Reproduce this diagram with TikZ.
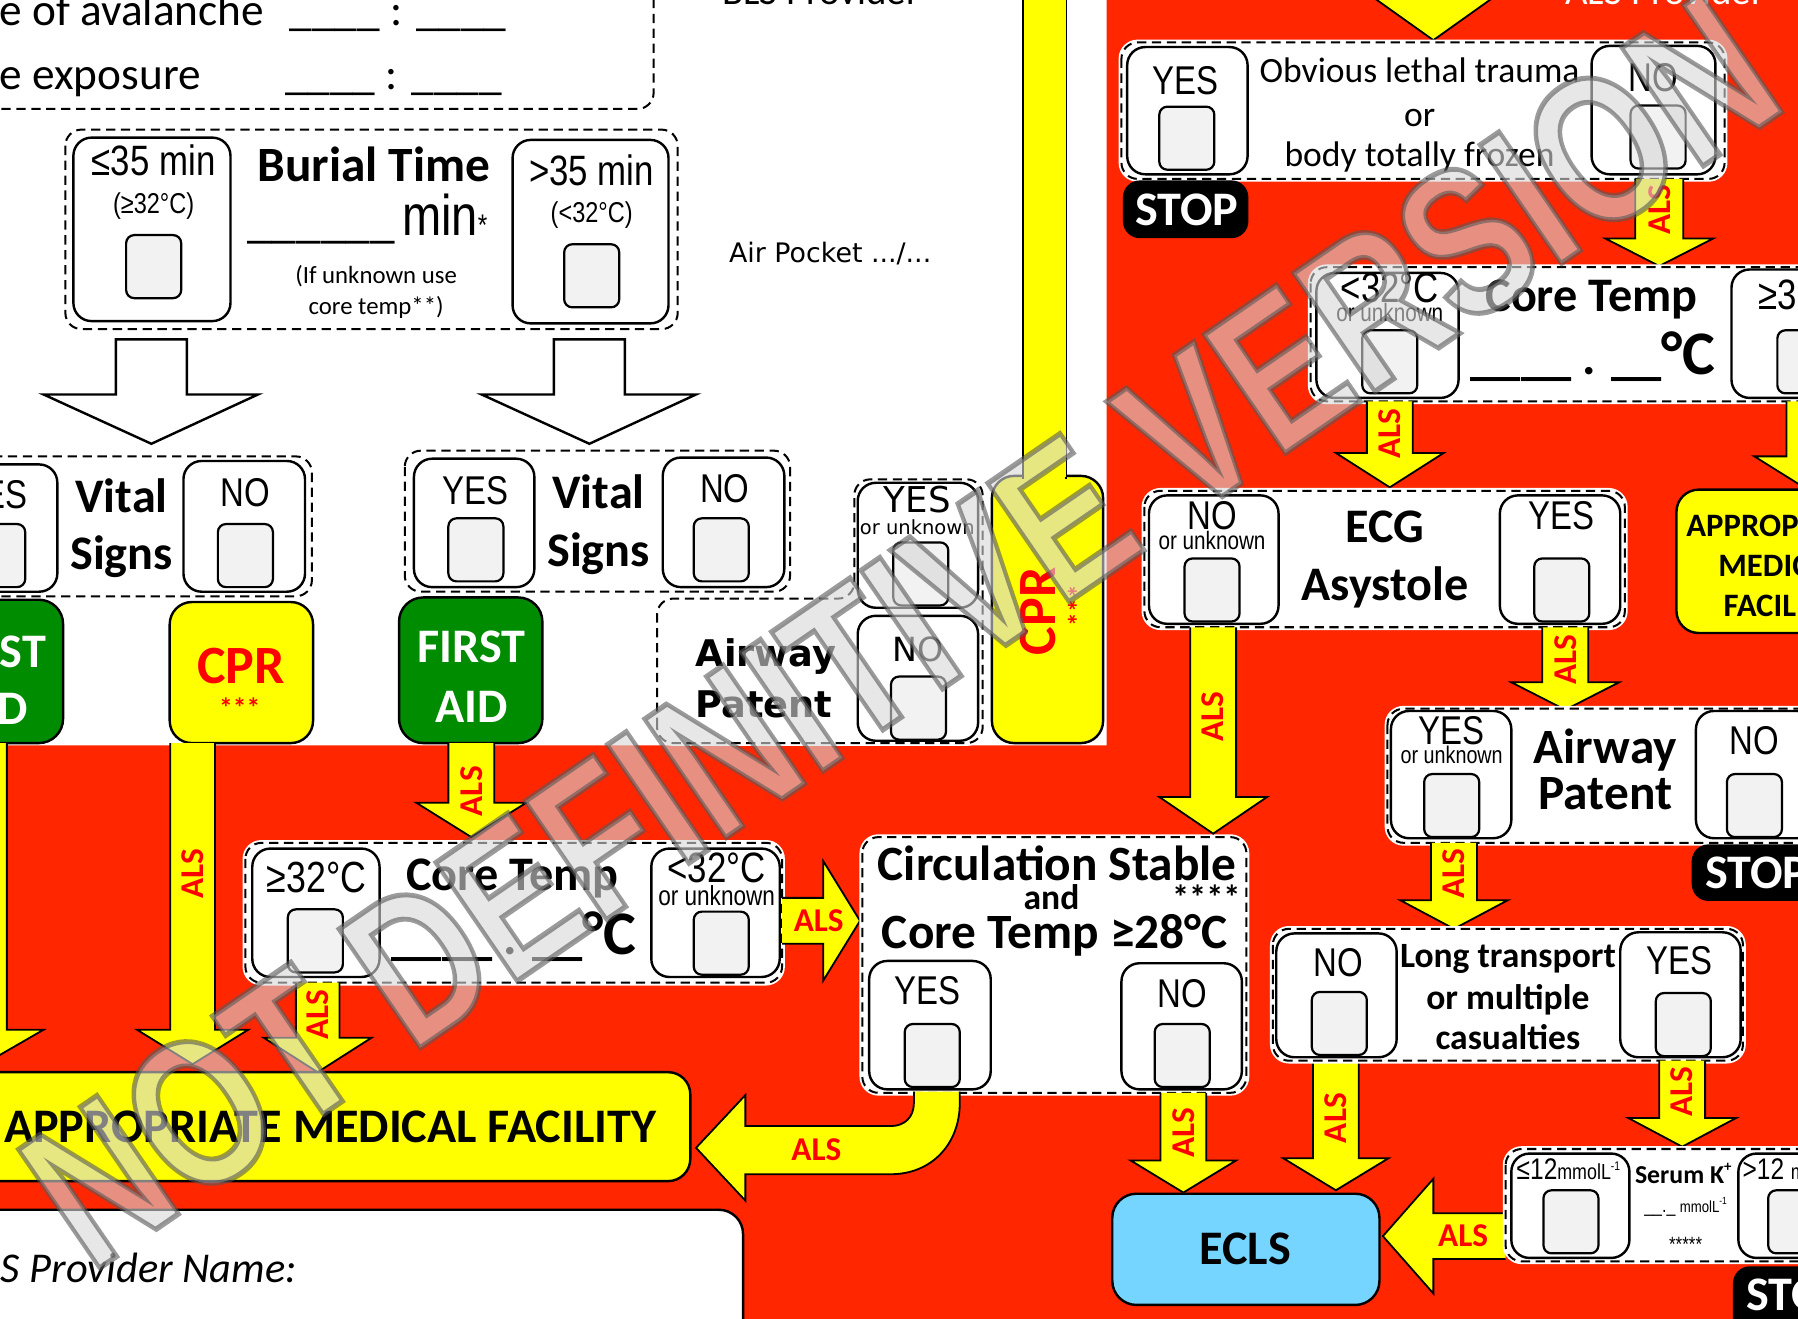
\documentclass[tikz,border=0pt]{standalone}
\usepackage{fontspec}
\setmainfont{Carlito}
\newfontfamily\nar[FakeStretch=0.82]{Liberation Sans}
\newfontfamily\dvs{DejaVu Sans}
\newfontfamily\wmf{Liberation Sans}
\newcommand\fpx[1]{\fontsize{\fpeval{#1*0.2845}}{\fpeval{#1*0.33}}\selectfont}
\definecolor{redbg}{RGB}{255,38,0}
\definecolor{yel}{RGB}{255,255,0}
\definecolor{grn}{RGB}{0,140,0}
\definecolor{ltblue}{RGB}{117,213,255}
\definecolor{cbox}{RGB}{242,242,242}
\definecolor{redtxt}{RGB}{255,0,0}
\definecolor{wmgray}{RGB}{215,215,215}
\newcommand\ArrD[6]{\draw[yarr] (#1-#5,#2) -- (#1-#5,#3) -- (#1-#6,#3) -- (#1,#4) -- (#1+#6,#3) -- (#1+#5,#3) -- (#1+#5,#2);}
\newcommand\ArrH[6]{\draw[yarr] (#2,#1-#5) -- (#3,#1-#5) -- (#3,#1-#6) -- (#4,#1) -- (#3,#1+#6) -- (#3,#1+#5) -- (#2,#1+#5);}
\newcommand\Chk[2]{\draw[chk] (#1,#2) rectangle (#1+48,#2+55);}
\begin{document}
\begin{tikzpicture}[x=0.01cm,y=-0.01cm,
 tx/.style={inner sep=0pt,anchor=base},
 dbox/.style={draw=black,line width=0.5pt,dash pattern=on 2.3pt off 1.4pt,rounded corners=4pt,fill=white,preaction={draw=white,line width=1.4pt}},
 ibox/.style={draw=black,line width=0.6pt,rounded corners=4.5pt,fill=white},
 chk/.style={draw=black,line width=0.55pt,rounded corners=2pt,fill=cbox},
 yarr/.style={draw=black,line width=0.45pt,fill=yel,line join=miter,miter limit=10},
 warr/.style={draw=black,line width=0.6pt,fill=white,line join=miter},
 ybox/.style={draw=black,line width=0.6pt,fill=yel,rounded corners=5.5pt},
 gbox/.style={draw=black,line width=0.6pt,fill=grn,rounded corners=6pt},
 sbox/.style={fill=black,rounded corners=4pt},
 fYN/.style={tx,font={\nar\fpx{35}}},
 fT/.style={tx,font={\bfseries\fpx{42}}},
 als/.style={inner sep=0pt,text=redtxt,font={\bfseries\fpx{29}}},
 alsv/.style={als,rotate=90},
]
\useasboundingbox (0,0) rectangle (1568,1150);
\clip (0,0) rectangle (1568,1150);
\fill[white] (0,0) rectangle (1568,1150);
\fill[redbg] (965,-10) -- (1600,-10) -- (1600,1200) -- (-50,1200) -- (-50,650) -- (965,650) -- cycle;

% top-left
\draw[dbox] (-40,-40) rectangle (570,95);
\node[tx,anchor=base west,font=\fpx{39.5}] (av1) at (-1,22) {e of avalanche};
\node[tx,anchor=base west,font=\fpx{39.5}] (av2) at (252,22) {\_\_\_\_ : \_\_\_\_};
\node[tx,anchor=base west,font=\fpx{39.5}] (ex1) at (-1,78) {e exposure};
\node[tx,anchor=base west,font=\fpx{39.5}] (ex2) at (248,78) {\_\_\_\_ : \_\_\_\_};
\node[tx,font=\fpx{34}] (blsh) at (716,4) {BLS Provider};
\node[tx,font=\fpx{34},text=white] (alsh) at (1452,4) {ALS Provider};

% Burial
\draw[dbox] (57,113) rectangle (591,287);
\draw[ibox] (64,120) rectangle (201,280);
\node[tx,font={\nar\fpx{37}}] (b1) at (134,153) {≤35 min};
\node[tx,font={\nar\fpx{25}}] (b1t) at (134,186) {(≥32°C)};
\Chk{110}{205}
\node[fT,font={\bfseries\fpx{43}}] (bt) at (326,158) {Burial Time};
\node[tx,font=\fpx{43}] (bu) at (280,207) {\_\_\_\_\_\_};
\node[tx,anchor=base west,font={\nar\fpx{50}}] (bm) at (350,205) {min{\fpx{26}*}};
\node[tx,font=\fpx{21.6}] (bu1) at (328,247) {(If unknown use};
\node[tx,font=\fpx{21.6}] (bu2) at (328,274) {core temp**)};
\draw[ibox] (447,122) rectangle (583,282);
\node[tx,font={\nar\fpx{37}}] (b2) at (516,162) {>35 min};
\node[tx,font={\nar\fpx{25}}] (b2t) at (516,194) {(<32°C)};
\Chk{492}{213}

% white arrows
\draw[warr] (101,296) -- (101,344) -- (38,344) -- (132,387) -- (225,344) -- (163,344) -- (163,296) -- cycle;
\draw[warr] (483,296) -- (483,344) -- (420,344) -- (514,387) -- (607,344) -- (545,344) -- (545,296) -- cycle;

% Vital left
\draw[dbox] (-40,398) rectangle (272,520);
\draw[ibox] (-60,405) rectangle (50,516);
\node[fYN] (v1y) at (-5,443) {YES};
\Chk{-26}{457}
\node[fT] (v1a) at (106,447) {Vital};
\node[fT] (v1b) at (106,497) {Signs};
\draw[ibox] (160,402) rectangle (266,516);
\node[fYN] (v1n) at (214,442) {NO};
\Chk{190}{457}

% Vital right
\draw[dbox] (353,393) rectangle (689,516);
\draw[ibox] (361,400) rectangle (466,512);
\node[fYN] (v2y) at (415,440) {YES};
\Chk{391}{452}
\node[fT] (v2a) at (522,443) {Vital};
\node[fT] (v2b) at (522,494) {Signs};
\draw[ibox] (578,399) rectangle (684,512);
\node[fYN] (v2n) at (632,438) {NO};
\Chk{605}{452}

% First aid and CPR
\draw[gbox] (-70,523) rectangle (55,648);
\node[fT,text=white] (fa1a) at (-7,582) {FIRST};
\node[fT,text=white] (fa1b) at (-7,632) {AID};
\draw[ybox] (148,525) rectangle (273,648);
\node[tx,text=redtxt,font={\bfseries\fpx{47}}] (cpr1) at (210,596) {CPR};
\node[tx,text=redtxt,font={\bfseries\fpx{24}}] (cpr1s) at (209,626) {***};
\draw[gbox] (348,521) rectangle (473,648);
\node[fT,text=white] (fa2a) at (411,578) {FIRST};
\node[fT,text=white] (fa2b) at (411,630) {AID};

% Air pocket
\node[tx,font={\dvs\fpx{23.4}}] (ap) at (724,229) {Air Pocket .../...};

% Middle airway
\draw[dbox] (573,648) -- (573,522) -- (745,522) -- (745,418) -- (857,418) -- (857,648) -- cycle;
\draw[ibox] (748,421) rectangle (853,530);
\node[tx,font={\dvs\fpx{31}}] (ma1) at (800,447) {YES};
\node[tx,font={\dvs\fpx{17}}] (ma2) at (800,466) {or unknown};
\Chk{779}{473}
\draw[ibox] (748,537) rectangle (853,646);
\node[tx,font={\dvs\fpx{29}}] (ma3) at (801,577) {NO};
\Chk{777}{590}
\node[tx,font={\dvs\bfseries\fpx{32}}] (ma4) at (668,581) {Airway};
\node[tx,font={\dvs\bfseries\fpx{32}}] (ma5) at (666,626) {Patent};

% Middle CPR bar
\draw[ybox] (865,415) rectangle (962,648);
\draw[yarr] (892,-20) rectangle (930,417);
\fill[yel] (892.9,405) rectangle (929.1,419);
\node[inner sep=0pt,rotate=90,text=redtxt,font={\bfseries\fpx{47}}] (cpr2) at (905,533) {CPR};
\node[inner sep=0pt,rotate=90,text=redtxt,font={\bfseries\fpx{24}}] (cpr2s) at (940,528) {***};

% lower-left arrows
\ArrD{-14}{648}{898}{928}{20}{52}
\node[alsv] (l1) at (-14,770) {ALS};
\ArrD{168}{648}{898}{928}{19.5}{48.5}
\node[alsv] (l2) at (168,762) {ALS};
\ArrD{411}{648}{700}{730}{20}{48}
\node[alsv] (l3) at (411,690) {ALS};

% Core temp left
\draw[dbox] (214,735) rectangle (682,857);
\draw[ibox] (220,740) rectangle (331,852);
\node[tx,font={\nar\fpx{38}}] (c1a) at (276,778) {≥32°C};
\Chk{251}{793}
\node[fT] (c1t) at (447,777) {Core Temp};
\node[tx,anchor=base west,font={\bfseries\fpx{44}}] (c1v) at (341,832) {\_\_\_\_ . \_\_{\fpx{54}°C}};
\draw[ibox] (568,740) rectangle (680,852);
\node[tx,font={\nar\fpx{37}}] (c1b) at (625,770) {<32°C};
\node[tx,font={\nar\fpx{24}}] (c1c) at (625,790) {or unknown};
\Chk{605}{795}
\ArrD{277}{857}{905}{935}{19}{47}
\node[alsv] (l4) at (277,885) {ALS};
\ArrH{803}{682}{718}{750}{20}{52}
\node[als] (l5) at (714,803) {ALS};

% Appropriate left and provider
\draw[ybox] (-40,935) rectangle (602,1030);
\node[fT] (apl) at (288,996) {APPROPRIATE MEDICAL FACILITY};
\draw[ibox,rounded corners=6pt] (-40,1055) rectangle (648,1200);
\node[tx,anchor=base west,font={\itshape\fpx{37}}] (sp) at (0,1118) {S Provider Name:};

% Circulation
\draw[dbox] (752,730) rectangle (1087,953);
\node[fT,font={\bfseries\fpx{43}}] (cs1) at (922,768) {Circulation Stable};
\node[tx,font={\bfseries\fpx{31}}] (cs2) at (917,793) {and};
\node[tx,font={\bfseries\fpx{30}}] (cs3) at (1052,793) {****};
\node[fT,font={\bfseries\fpx{43}}] (cs4) at (920,827) {Core Temp ≥28°C};
\draw[ibox] (758,838) rectangle (864,950);
\node[fYN] (cs5) at (809,876) {YES};
\Chk{789}{893}
\draw[ibox] (978,840) rectangle (1083,950);
\node[fYN] (cs6) at (1031,879) {NO};
\Chk{1007}{893}

\draw[yarr] (837,952) -- (837,962) .. controls (837,998) and (812,1024) .. (777,1024) -- (650,1024) -- (650,1047) -- (607,1001) -- (650,955) -- (650,982) -- (777,982) .. controls (789,982) and (797,974) .. (797,962) -- (797,952);
\node[als] (l6) at (712,1003) {ALS};

% ECLS
\ArrD{1032}{953}{1012}{1040}{20}{46}
\node[alsv] (l7) at (1032,988) {ALS};
\ArrD{1165}{925}{1010}{1038}{20}{46}
\node[alsv] (l8) at (1165,975) {ALS};
\ArrH{1078}{1313}{1250}{1206}{20}{50}
\node[als] (l9) at (1276,1078) {ALS};
\draw[draw=black,line width=0.6pt,fill=ltblue,rounded corners=6pt] (970,1041) rectangle (1203,1138);
\node[fT] (ecls) at (1086,1103) {ECLS};

% right top
\ArrD{1250}{-40}{-2}{35}{21}{52}
\draw[dbox] (978,37) rectangle (1504,156);
\draw[ibox] (983,41) rectangle (1088,152);
\node[fYN] (o1) at (1034,82) {YES};
\Chk{1011}{93}
\node[tx,font=\fpx{31}] (o2) at (1238,72) {Obvious lethal trauma};
\node[tx,font=\fpx{31}] (o3) at (1238,110) {or};
\node[tx,font=\fpx{31}] (o4) at (1238,145) {body totally frozen};
\draw[ibox] (1388,40) rectangle (1496,152);
\node[fYN] (o5) at (1442,80) {NO};
\Chk{1422}{92}
\draw[sbox] (980,158) rectangle (1088,207);
\node[fT,text=white] (st1) at (1035,197) {STOP};
\ArrD{1447}{156}{208}{232}{21}{47}
\node[alsv] (l10) at (1447,183) {ALS};

% core temp right
\draw[dbox] (1143,233) rectangle (1700,350);
\draw[ibox] (1148,238) rectangle (1272,347);
\node[tx,font={\nar\fpx{37}}] (r1) at (1212,264) {<32°C};
\node[tx,font={\nar\fpx{22}}] (r2) at (1212,280) {or unknown};
\Chk{1188}{288}
\node[fT] (r3) at (1388,272) {Core Temp};
\node[tx,anchor=base west,font={\bfseries\fpx{44}}] (r4) at (1282,327) {\_\_\_\_ . \_\_{\fpx{54}°C}};
\draw[ibox] (1510,235) rectangle (1640,347);
\node[tx,font={\nar\fpx{37}}] (r5) at (1576,270) {≥32°C};
\Chk{1550}{288}
\ArrD{1212}{350}{395}{425}{20}{47}
\node[alsv] (l11) at (1212,378) {ALS};
\ArrD{1578}{350}{398}{428}{20}{48}
\node[alsv] (l12) at (1578,378) {ALS};

% appropriate right
\draw[ybox] (1462,427) rectangle (1650,552);
\node[tx,font={\bfseries\fpx{28.5}}] (ar1) at (1553,468) {APPROPRIATE};
\node[tx,font={\bfseries\fpx{28.5}}] (ar2) at (1553,503) {MEDICAL};
\node[tx,font={\bfseries\fpx{28.5}}] (ar3) at (1553,538) {FACILITY};

% ECG
\draw[dbox] (998,428) rectangle (1417,547);
\draw[ibox] (1002,432) rectangle (1115,544);
\node[fYN] (e1) at (1057,462) {NO};
\node[tx,font={\nar\fpx{22}}] (e2) at (1057,479) {or unknown};
\Chk{1033}{487}
\node[fT] (e3) at (1208,473) {ECG};
\node[fT] (e4) at (1208,524) {Asystole};
\draw[ibox] (1308,432) rectangle (1413,544);
\node[fYN] (e5) at (1362,462) {YES};
\Chk{1338}{487}
\ArrD{1058}{547}{695}{727}{20}{47}
\node[alsv] (l13) at (1058,625) {ALS};
\ArrD{1365}{547}{595}{619}{20}{47}
\node[alsv] (l14) at (1365,575) {ALS};

% airway right
\draw[dbox] (1210,618) rectangle (1700,735);
\draw[ibox] (1213,620) rectangle (1318,731);
\node[fYN] (w1) at (1266,649) {YES};
\node[tx,font={\nar\fpx{21}}] (w2) at (1266,666) {or unknown};
\Chk{1242}{675}
\node[fT,font={\bfseries\fpx{43}}] (w3) at (1400,666) {Airway};
\node[fT,font={\bfseries\fpx{43}}] (w4) at (1400,706) {Patent};
\draw[ibox] (1479,620) rectangle (1583,731);
\node[fYN] (w5) at (1530,658) {NO};
\Chk{1506}{675}
\draw[sbox] (1476,737) rectangle (1620,785);
\node[fT,text=white] (st2) at (1532,775) {STOP};
\ArrD{1268}{735}{785}{810}{20}{47}
\node[alsv] (l15) at (1268,762) {ALS};

% long transport
\draw[dbox] (1110,810) rectangle (1520,925);
\draw[ibox] (1113,814) rectangle (1218,922);
\node[fYN] (lt1) at (1167,852) {NO};
\Chk{1144}{865}
\node[tx,font={\bfseries\fpx{31}}] (lt2) at (1315,844) {Long transport};
\node[tx,font={\bfseries\fpx{31}}] (lt3) at (1315,880) {or multiple};
\node[tx,font={\bfseries\fpx{31}}] (lt4) at (1315,915) {casualties};
\draw[ibox] (1413,813) rectangle (1518,922);
\node[fYN] (lt5) at (1465,850) {YES};
\Chk{1444}{866}
\ArrD{1467}{925}{975}{1000}{20}{47}
\node[alsv] (l16) at (1467,952) {ALS};

% serum
\draw[dbox] (1313,1002) rectangle (1700,1100);
\draw[ibox] (1318,1006) rectangle (1421,1097);
\node[tx,anchor=base west,font={\nar\fpx{26}}] (k1) at (1322,1029) {≤12{\fpx{19}mmolL\raisebox{0.45em}{\fpx{11}-1}}};
\Chk{1346}{1038}
\node[tx,font={\bfseries\fpx{22.5}}] (k2) at (1468,1032) {Serum K\raisebox{0.45em}{\fpx{13}+}};
\node[tx,font={\nar\fpx{17}}] (k3) at (1470,1057) {\_\_.\_ {\fpx{14}mmolL\raisebox{0.45em}{\fpx{9}-1}}};
\node[tx,font={\nar\fpx{18}}] (k4) at (1470,1091) {*****};
\draw[ibox] (1516,1006) rectangle (1620,1097);
\node[tx,anchor=base west,font={\nar\fpx{26}}] (k5) at (1519,1029) {>12 {\fpx{19}mmolL\raisebox{0.45em}{\fpx{11}-1}}};
\Chk{1542}{1038}
\draw[sbox] (1512,1105) rectangle (1640,1170);
\node[fT,text=white] (st3) at (1568,1143) {STOP};

% watermark
\node[inner sep=0pt,opacity=0.6,rotate=34.5,text=wmgray,font={\wmf\bfseries\fpx{182}}] (wm) at (785,550) {\scalebox{0.78}[1]{\special{pdf:literal direct 2 Tr 1.3 w 0.35 0.35 0.35 RG}NOT DEFINITIVE VERSION\special{pdf:literal direct 0 Tr}}};
\end{tikzpicture}
\end{document}
